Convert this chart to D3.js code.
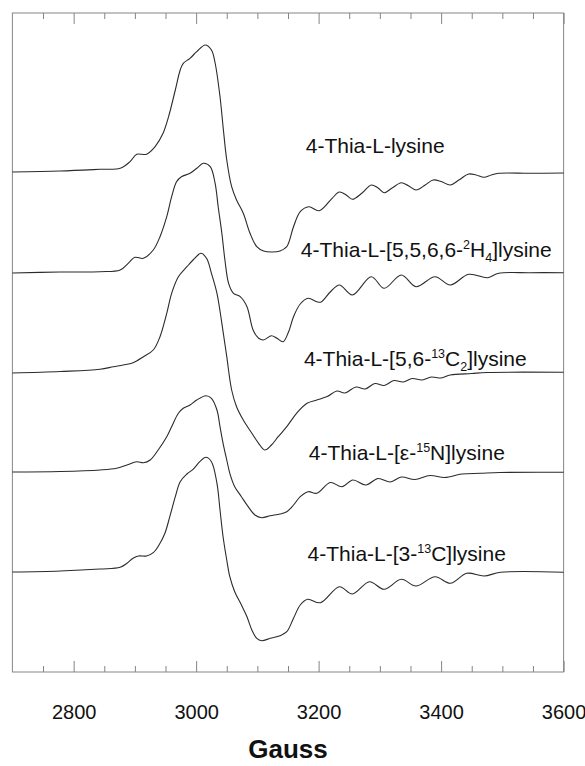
<!DOCTYPE html>
<html>
<head>
<meta charset="utf-8">
<script src="https://cdn.jsdelivr.net/npm/d3@7"></script>
<style>
    body { margin: 0; background: #fff; }
    svg { font-family: Arial, "Liberation Sans", sans-serif; }
</style>
</head>
<body>
<svg id="chart" width="585" height="766"></svg>
<script>
// Field axis (Gauss)
const gaussDomain = [2700, 3600];
const majorTicks = [2800, 3000, 3200, 3400, 3600];
const minorTicks = [2750, 2850, 2900, 2950, 3050, 3100, 3150, 3250, 3300, 3350, 3450, 3500, 3550];

// Spectra: [Gauss, signal] relative to each trace's own baseline (arbitrary units)
const thiaLysine = [
    [2700, 0], [2778, 1], [2843, 2.7], [2876, 3.7], [2892, 10.3], [2903, 17.7], [2919, 17.7], [2933, 25.3],
    [2946, 38.7], [2955, 55.3], [2966, 82], [2974, 102], [2979, 108.7], [2990, 113.7], [3001, 120.3], [3015, 127],
    [3025, 122], [3031, 109], [3039, 75.3], [3044, 45.3], [3050, 12], [3058, -14.7], [3066, -28], [3077, -41.3],
    [3088, -61.3], [3099, -74.7], [3110, -79], [3124, -80], [3137, -79], [3148, -74.7], [3159, -54.7], [3170, -39.7],
    [3184, -34.7], [3201, -38.7], [3222, -26.3], [3234, -20], [3245, -23], [3255, -27.3], [3271, -21], [3286, -13],
    [3297, -16], [3307, -20.7], [3320, -16], [3335, -10.7], [3346, -13.5], [3359, -18], [3374, -13], [3387, -8],
    [3400, -9.5], [3415, -13], [3429, -8], [3445, -2], [3457, -3], [3470, -5.3], [3482, -3], [3494, -1.3],
    [3545, -1.3], [3600, -1]
];
const thiaLysineD4 = [
    [2700, 0], [2778, 1], [2843, 1.3], [2876, 3], [2889, 9.7], [2900, 15.7], [2914, 14.7], [2930, 23],
    [2941, 36.3], [2952, 56.3], [2960, 76.3], [2968, 91.3], [2976, 96.3], [2990, 99.7], [3001, 104.7], [3012, 109.7],
    [3023, 106.3], [3031, 89.7], [3036, 66.3], [3042, 39.7], [3047, 13], [3053, -10.3], [3061, -20.3], [3072, -23.7],
    [3083, -33.7], [3093, -57], [3102, -65.3], [3110, -67], [3123, -62.7], [3132, -65.3], [3142, -68.7], [3151, -58.7],
    [3159, -43.7], [3170, -31], [3183, -25.3], [3197, -28.7], [3204, -29], [3219, -19], [3234, -12], [3255, -22],
    [3286, -3.7], [3307, -15.3], [3335, -2], [3359, -13.7], [3390, -3.7], [3415, -12], [3445, -1.3], [3476, -4.7],
    [3494, -0.3], [3545, 0.3], [3600, 0.3]
];
const thiaLysine13C2 = [
    [2700, 0], [2778, 1.5], [2843, 3.7], [2865, 6.3], [2881, 8], [2897, 10.3], [2914, 16.3], [2930, 23],
    [2941, 36.3], [2952, 59.7], [2960, 79.7], [2971, 96.3], [2985, 106.3], [2995, 113], [3008, 119.7], [3017, 114.7],
    [3025, 99.7], [3034, 79.7], [3042, 49.7], [3050, 16.3], [3058, -17], [3066, -33.7], [3077, -47], [3091, -60.3],
    [3102, -70.3], [3112, -77], [3123, -72], [3134, -63.7], [3148, -53.7], [3164, -40.3], [3181, -30.3], [3197, -27],
    [3214, -23.5], [3230, -18], [3243, -20], [3261, -14], [3276, -16], [3292, -10.5], [3307, -12.5], [3323, -7.5],
    [3338, -9], [3353, -5.5], [3369, -7], [3384, -4], [3400, -5], [3415, -2], [3450, -0.5], [3475, 0.5], [3600, 0.7]
];
const thiaLysine15N = [
    [2700, 0], [2778, 0.5], [2843, 2], [2870, 3.7], [2887, 7], [2903, 10.3], [2914, 9.3], [2925, 12],
    [2938, 22], [2952, 35.3], [2960, 45.3], [2971, 58.7], [2979, 63.7], [2990, 67], [3001, 72], [3016, 76.3],
    [3025, 73.7], [3034, 62], [3039, 45.3], [3044, 28.7], [3050, 12], [3055, -1.3], [3063, -14.7], [3074, -24.7],
    [3085, -34.7], [3096, -43], [3107, -45.7], [3121, -43.7], [3137, -42], [3148, -39.7], [3159, -33], [3170, -24.7],
    [3183, -19.7], [3197, -21.3], [3219, -10.5], [3238, -14.7], [3256, -8], [3277, -13], [3297, -6.5], [3317, -10],
    [3335, -5], [3357, -7.5], [3382, -3.5], [3406, -5.5], [3434, -2], [3464, -1.3], [3496, -0.5], [3600, -0.3]
];
const thiaLysine3C13 = [
    [2700, 0], [2778, 1], [2843, 3], [2876, 4.7], [2887, 8.7], [2897, 13.7], [2906, 16], [2919, 16],
    [2930, 19.3], [2941, 28.7], [2949, 38.7], [2957, 55.3], [2966, 75.3], [2974, 90.3], [2985, 98], [2995, 102.7],
    [3006, 110.3], [3016, 114.7], [3025, 110.3], [3034, 88.7], [3039, 62], [3044, 35.3], [3050, 12], [3055, -4.7],
    [3063, -19.7], [3074, -33], [3083, -44.7], [3091, -58], [3099, -66.3], [3107, -68.7], [3121, -66.3], [3137, -63.7],
    [3148, -59.7], [3159, -46.3], [3170, -33], [3182, -27.3], [3203, -30.7], [3234, -14.7], [3255, -22], [3283, -9.7],
    [3307, -17.3], [3335, -7.3], [3359, -14], [3390, -4.7], [3415, -11.3], [3442, -1.3], [3470, -4], [3497, -0.3],
    [3600, -0.3]
];

const spectra = [thiaLysine, thiaLysineD4, thiaLysine13C2, thiaLysine15N, thiaLysine3C13];
const traceOffsets = [500, 399, 299, 200, 100];

// Labels: text pieces ('' normal, 'sup', 'sub'), anchor in Gauss and lift above the trace baseline
const labelParts = [
    [['4-Thia-L-lysine', '']],
    [['4-Thia-L-[5,5,6,6-', ''], ['2', 'sup'], ['H', ''], ['4', 'sub'], [']lysine', '']],
    [['4-Thia-L-[5,6-', ''], ['13', 'sup'], ['C', ''], ['2', 'sub'], [']lysine', '']],
    [['4-Thia-L-[\u03b5-', ''], ['15', 'sup'], ['N', ''], [']lysine', '']],
    [['4-Thia-L-[3-', ''], ['13', 'sup'], ['C]lysine', '']]
];
const labelGauss = [3179, 3171, 3176, 3184, 3182];
const labelLift = [19, 16, 7, 12, 11];

// Constants
const PLOT = { left: 12.4, right: 563.6, top: 13, bottom: 672 };
const FRAME_COLOR = '#858585';
const TRACE_COLOR = '#2b2b2b';
const LABEL_SIZE = 21;
const SHIFT = { '': 0, sup: -8, sub: 5 };

const svg = d3.select('#chart');

const x = d3.scaleLinear()
    .domain(gaussDomain)
    .range([PLOT.left, PLOT.right]);
const y = d3.scaleLinear()
    .domain([0, 659])
    .range([PLOT.bottom, PLOT.top]);

// Ticks (inward, top and bottom)
function drawTicks(axisFn, yPos, values, size, labels) {
    const g = svg.append('g')
        .attr('transform', 'translate(0,' + yPos + ')')
        .call(axisFn(x)
            .tickValues(values)
            .tickSizeInner(size)
            .tickSizeOuter(0)
            .tickPadding(33)
            .tickFormat(labels ? d3.format('d') : () => ''))
    ;
    g.select('.domain').remove();
    g.selectAll('.tick line').attr('stroke', FRAME_COLOR);
    g.selectAll('.tick text')
        .attr('fill', '#111')
        .attr('font-size', 20)
        .attr('font-family', 'Arial, "Liberation Sans", sans-serif');
    return g;
}
drawTicks(d3.axisBottom, PLOT.bottom, majorTicks, -11, true);
drawTicks(d3.axisBottom, PLOT.bottom, minorTicks, -6, false);
drawTicks(d3.axisTop, PLOT.top, majorTicks, -11, false);
drawTicks(d3.axisTop, PLOT.top, minorTicks, -6, false);

// Frame
svg.append('rect')
    .attr('x', PLOT.left)
    .attr('y', PLOT.top)
    .attr('width', PLOT.right - PLOT.left)
    .attr('height', PLOT.bottom - PLOT.top)
    .attr('fill', 'none')
    .attr('stroke', FRAME_COLOR)
    .attr('stroke-width', 1);

// Traces
const line = d3.line()
    .x((d) => x(d[0]))
    .y((d) => y(d[1]))
    .curve(d3.curveCatmullRom.alpha(0.5));

svg.append('g')
    .attr('class', 'traces')
    .selectAll('path')
    .data(spectra.map((s, i) => s.map((p) => [p[0], p[1] + traceOffsets[i]])))
    .enter().append('path')
        .attr('d', line)
        .attr('fill', 'none')
        .attr('stroke', TRACE_COLOR)
        .attr('stroke-width', 1.1)
;

// Labels
const labels = svg.append('g')
    .attr('class', 'labels')
    .selectAll('text')
    .data(labelParts)
    .enter().append('text')
        .attr('x', (d, i) => x(labelGauss[i]))
        .attr('y', (d, i) => y(traceOffsets[i] + labelLift[i]))
        .attr('font-size', LABEL_SIZE)
        .attr('fill', '#111')
;
labels.each(function (parts) {
    let shift = 0;
    const t = d3.select(this);
    parts.forEach((p) => {
        const target = SHIFT[p[1]];
        t.append('tspan')
            .attr('dy', target - shift)
            .attr('font-size', p[1] ? 12.5 : LABEL_SIZE)
            .text(p[0]);
        shift = target;
    });
});

// Axis title
svg.append('text')
    .attr('x', (PLOT.left + PLOT.right) / 2)
    .attr('y', 758)
    .attr('text-anchor', 'middle')
    .attr('font-size', 26)
    .attr('font-weight', 'bold')
    .attr('fill', '#111')
    .text('Gauss');
</script>
</body>
</html>
